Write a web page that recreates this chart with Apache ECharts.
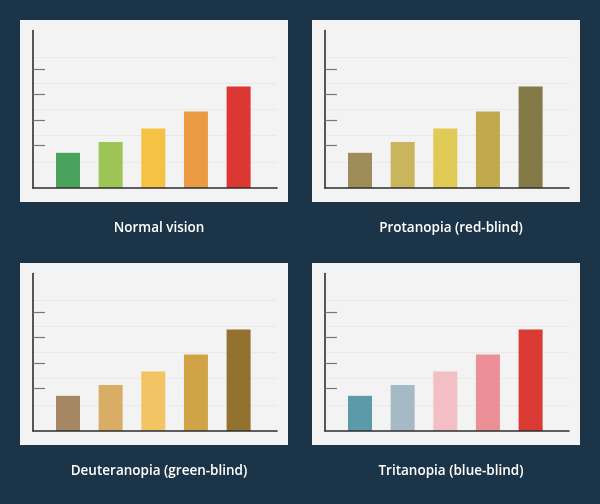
<!DOCTYPE html>
<html>
<head>
<meta charset="utf-8">
<style>
    html, body{
        margin: 0;
        padding: 0;
        background: #1c3447;
    }
    #main{
        width: 600px;
        height: 504px;
    }
</style>
</head>
<body>
<div id="main"></div>
<script type="text/javascript" src="https://cdn.jsdelivr.net/npm/echarts@6/dist/echarts.min.js"></script>
<script>
    // same values in every panel, only colours change
    var categories = ['1', '2', '3', '4', '5'];
    var values = [13.4, 17.5, 22.7, 29.1, 38.7];
    var tickValues = [16.1, 25.8, 35.6, 45.1];
    var titles = ['Normal vision', 'Protanopia (red-blind)', 'Deuteranopia (green-blind)', 'Tritanopia (blue-blind)'];
    var normalColors = ['#4aa35d', '#9cc556', '#f6c243', '#ea9a43', '#dc3733'];
    var protanColors = ['#9e8d58', '#c8b55c', '#e1ca55', '#c0aa4c', '#847a48'];
    var deuterColors = ['#a68763', '#d9ad65', '#f3c463', '#d0a347', '#92722e'];
    var tritanColors = ['#5b9aa9', '#a6bac6', '#f4bec5', '#eb8e96', '#d93a34'];
    var palettes = [normalColors, protanColors, deuterColors, tritanColors];

    // panel boxes: left, top
    var panels = [[20, 20], [312, 20], [20, 263], [312, 263]];
    var panelW = 268, panelH = 182;

    var option = {
        animation: false,
        backgroundColor: '#1c3447',
        title: [],
        graphic: [],
        grid: [],
        xAxis: [],
        yAxis: [],
        series: []
    };

    for (var i = 0; i < 4; i++) {
        var px = panels[i][0], py = panels[i][1];
        option.graphic.push({
            type: 'rect',
            z: -10,
            shape: { x: px, y: py, width: panelW, height: panelH },
            style: { fill: '#f3f3f3' }
        });
        option.title.push({
            text: titles[i],
            left: px + panelW / 2,
            top: py + panelH + 14,
            textAlign: 'center',
            textStyle: {
                color: '#ffffff',
                fontFamily: 'Open Sans',
                fontWeight: 600,
                fontSize: 13.5
            }
        });
        option.grid.push({
            left: px + 13,
            top: py + 10.5,
            width: 244,
            height: 157.5
        });
        option.xAxis.push({
            gridIndex: i,
            type: 'value',
            min: 0.18,
            max: 5.9,
            z: 3,
            axisLine: { show: true, lineStyle: { color: '#2e2e2e', width: 1.6 } },
            axisTick: { show: false },
            axisLabel: { show: false },
            splitLine: { show: false }
        });
        // axis line + ticks
        option.yAxis.push({
            gridIndex: i,
            type: 'value',
            position: 'left',
            min: 0,
            max: 60,
            z: 3,
            axisLine: { show: true, onZero: false, lineStyle: { color: '#2e2e2e', width: 1.6 } },
            axisTick: {
                show: true,
                inside: true,
                length: 12,
                customValues: tickValues,
                lineStyle: { color: '#777', width: 1.2 }
            },
            axisLabel: { show: false },
            splitLine: { show: false }
        });
        // faint grid lines
        option.yAxis.push({
            gridIndex: i,
            type: 'value',
            position: 'left',
            min: 0,
            max: 60,
            interval: 10,
            axisLine: { show: false },
            axisTick: { show: false },
            axisLabel: { show: false },
            splitLine: {
                show: true,
                showMinLine: false,
                showMaxLine: false,
                lineStyle: { color: '#e9e9e9', width: 1 }
            }
        });
        var pal = palettes[i];
        option.series.push({
            type: 'bar',
            xAxisIndex: i,
            yAxisIndex: i * 2,
            barWidth: 24,
            data: categories.map(function (c, k) {
                return { value: [k + 1, values[k]], itemStyle: { color: pal[k] } };
            })
        });
    }

    var myChart = echarts.init(document.getElementById('main'));
    myChart.setOption(option);
</script>
</body>
</html>
